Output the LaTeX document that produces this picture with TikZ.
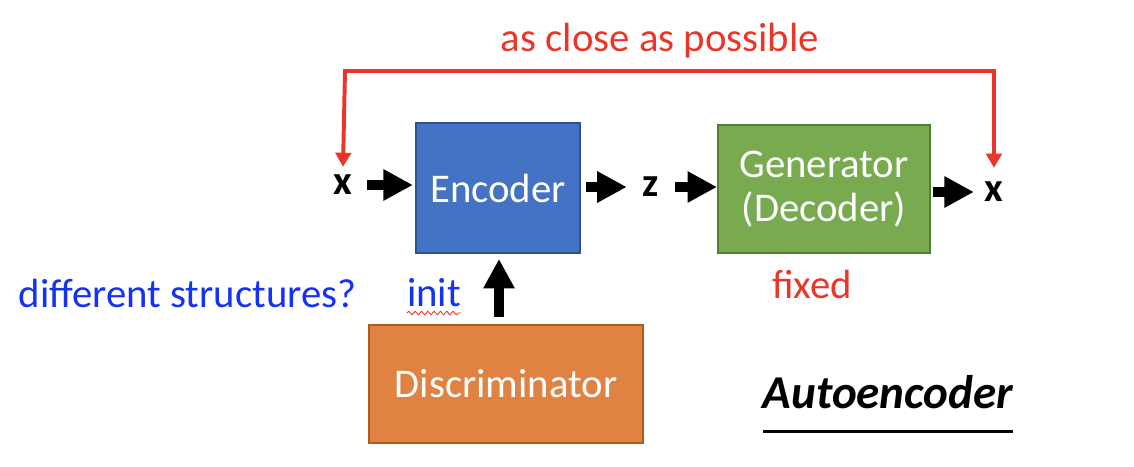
\documentclass[tikz,border=0pt]{standalone}
\usepackage{fontspec}
\setmainfont{Carlito}
\usepackage{tikz}
\usetikzlibrary{arrows.meta, positioning, decorations.pathmorphing}
\definecolor{encblue}{RGB}{68,114,196}
\definecolor{encedge}{RGB}{47,82,143}
\definecolor{gengreen}{RGB}{120,170,80}
\definecolor{genedge}{RGB}{80,126,50}
\definecolor{discorange}{RGB}{224,130,66}
\definecolor{discedge}{RGB}{174,90,33}
\definecolor{notered}{RGB}{234,54,40}
\definecolor{noteblue}{RGB}{20,50,245}

\begin{document}
\begin{tikzpicture}[
  blk/.style={draw, line width=1.4pt, minimum width=4.1cm, minimum height=3.25cm, align=center, text=white, font=\fontsize{29}{31}\selectfont},
  sym/.style={inner sep=0pt, minimum width=1.2cm, font=\fontsize{29}{34}\selectfont\bfseries},
  note/.style={anchor=base, inner sep=0pt, font=\fontsize{29}{34}\selectfont},
  bigarr/.style={line width=7.8pt, -{Triangle[length=21pt, width=21pt]}},
  redarr/.style={notered, line width=2.8pt, {Triangle[length=10pt, width=11pt]}-{Triangle[length=10pt, width=11pt]}}
]
  \useasboundingbox (0,0) rectangle (28.35,11.65);

  \node[blk, fill=encblue, draw=encedge] (enc) at (12.45,6.95) {Encoder};
  \node[blk, fill=gengreen, draw=genedge, minimum width=5.3cm, minimum height=3.2cm] (gen) at (20.6,6.925) {Generator\\(Decoder)};
  \node[blk, fill=discorange, draw=discedge, minimum width=6.85cm, minimum height=2.95cm] (disc) at (12.65,2.05) {Discriminator};

  \node[sym] (xin) at (8.575,7.025) {x};
  \node[sym] (z) at (16.275,6.975) {z};
  \node[sym] (xout) at (24.85,6.85) {x};
  \coordinate (top) at (8.625,9.875);

  \draw[bigarr, shorten >=1.5pt] (xin.east) -- (xin.east -| enc.west);
  \draw[bigarr, shorten <=3.5pt] (z.west -| enc.east) -- (z.west);
  \draw[bigarr] (z.east) -- (z.east -| gen.west);
  \draw[bigarr, shorten <=1.5pt, shorten >=-3pt] (xout.west -| gen.east) -- (xout.west);
  \draw[bigarr, shorten <=5pt, shorten >=3.5pt] (disc.north -| 12.475,0) -- (enc.south -| 12.475,0);

  % feedback between the two x
  \draw[redarr] ([yshift=10pt]xout.north) |- (top) -- ([yshift=5.7pt]xin.north);

  \node[note, text=notered] (close) at (16.5,10.35) {as close as possible};
  \node[note, text=notered] (fixed) at (20.3,4.2) {fixed};
  \node[note, text=noteblue] (diff) at (4.69,3.975) {different structures?};
  \node[note, text=noteblue] (init) at (10.85,4.0) {init};
  \draw[notered, line width=0.6pt, decorate, decoration={snake, amplitude=1.3pt, segment length=4.5pt}]
    ([yshift=-5pt]init.base west) -- ([yshift=-5pt]init.base east);

  \node[note, font=\fontsize{33.5}{38}\selectfont\bfseries\itshape] (ae) at (22.2,1.45) {Autoencoder};
  \draw[line width=2.2pt] ([yshift=-17pt]ae.base west) -- ([yshift=-17pt]ae.base east);
\end{tikzpicture}
\end{document}
